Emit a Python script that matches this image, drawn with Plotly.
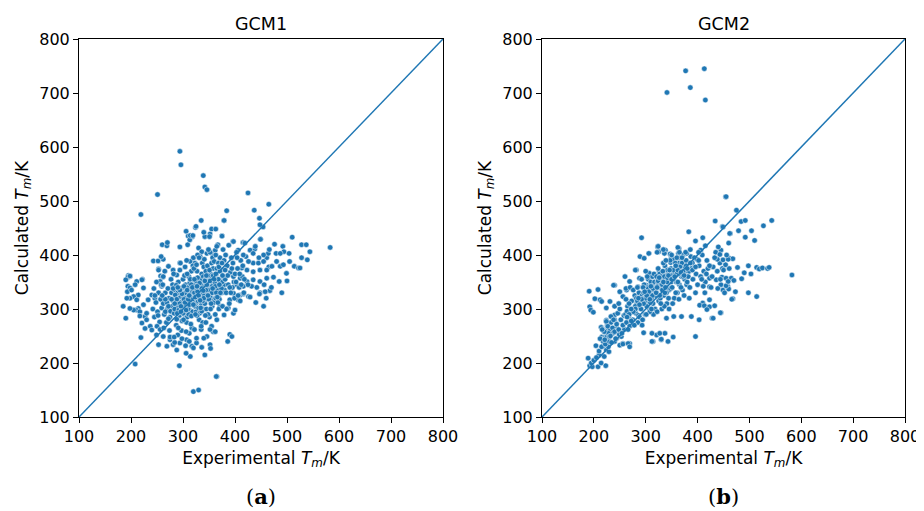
import plotly.graph_objects as go

# ---------------- data: (experimental Tm, calculated Tm) in K ----------------
gcm1_outliers = [(294,592),(296,567),(339,547),(342,526),(346,521),(251,512),(425,515),(219,475),(465,494),(384,482),
 (437,483),(447,468),(379,464),(335,464),(324,451),(306,444),(355,448),(363,448),(352,439),(375,435),(342,434),(310,435),
 (318,434),(313,428),(396,425),(415,423),(454,452),(449,429),(260,419),(269,417),(270,423),(294,415),(309,419),(367,419),
 (243,389),(252,389),(262,392),(258,397),(438,411),(461,395),(465,378),(253,374),(257,361),(261,359),(195,362),(198,360),(222,355)]

gcm1_left = [(194,359),(198,361),(190,354),(194,342),(198,339),(193,332),(201,335),(211,351),(208,345),(221,354),(224,339),
 (214,326),(205,323),(198,320),(192,320),(211,317),(214,301),(210,298),(217,295),(227,286),(230,280),(221,274),(237,268),
 (227,264),(240,261),(230,292),(224,308),(233,317),(240,326),(246,320),(185,305),(190,283),(217,287),(205,298),(198,301)]

gcm1_low = [(249,252),(262,249),(275,243),(281,234),(294,237),(307,243),(317,231),(326,237),(336,229),(314,212),(306,218),
 (342,215),(293,195),(208,198),(365,175),(320,147),(330,150),(219,247),(269,231),(253,234),(288,224),(326,246),(346,249),
 (358,258),(365,280),(355,268),(284,238),(298,245),(312,240),(340,246),(352,262),(290,252),(305,232),(320,228),(335,262),(275,248)]

gcm1_upper = [(325,453),(314,436),(319,436),(340,442),(351,434),(330,413),(336,406),(346,403),(355,403),(362,409),(365,416),
 (333,397),(314,388),(323,385),(294,385),(281,372),(272,379),(288,363),(262,360),(259,342),(256,351),(253,372)]

gcm1_right = [(379,464),(375,435),(449,429),(510,433),(528,419),(537,419),(544,406),(539,391),(583,414),(476,420),(492,416),
 (494,406),(504,403),(479,403),(487,403),(528,395),(514,379),(522,376),(525,376),(505,388),(499,366),(485,351),(467,334),
 (458,332),(448,330),(474,359),(461,357),(471,379),(421,397),(429,409),(435,403),(439,416),(416,423),(397,425),(362,258),
 (390,253),(394,249),(386,240),(352,234),(353,227),(364,175),(426,323),(429,322),(447,328),(397,292),(400,298),(379,289),
 (410,326),(416,328),(448,456),(435,385),(445,385),(455,388),(461,372),(448,372),(435,369),(423,372),(413,376),(410,357),
 (423,351),(435,354),(448,351),(432,342),(416,342),(403,345),(397,329),(390,317),(406,317),(387,302),(371,305),(368,323),
 (480,388),(487,379),(464,403),(455,400),(493,382),(419,422),(406,409),(426,388),
 (425,345),(442,340),(446,395),(456,345),(466,410),(470,340),(500,352),(460,320),(490,330),(440,312),(455,305)]

gcm1_core = [(242,300),(245,285),(248,312),(251,295),(253,330),(255,276),(257,318),(244,338),(259,302),(250,268),(246,325),
 (258,345),(252,288),(256,262),(249,350),
 (262,310),(264,290),(266,330),(268,275),(270,300),(261,345),(273,320),(275,285),(277,355),(263,265),(271,338),(279,305),
 (266,295),(274,260),(278,330),(269,312),(265,370),(276,296),(272,282),(280,345),
 (281,315),(283,292),(285,335),(287,270),(289,305),(291,350),(293,288),(295,322),(297,260),(299,340),(282,365),(284,300),
 (286,318),(288,281),(290,330),(292,298),(294,372),(296,312),(298,278),(300,355),(283,248),(285,326),(287,344),(289,292),
 (291,265),(293,310),(295,385),(297,330),(299,300),(281,338),
 (301,320),(303,290),(305,345),(307,275),(309,310),(311,360),(313,298),(315,332),(317,265),(319,350),(302,305),(304,378),
 (306,325),(308,285),(310,340),(312,255),(314,315),(316,370),(318,295),(320,335),(301,280),(303,362),(305,300),(307,390),
 (309,328),(311,290),(313,348),(315,272),(317,312),(319,380),(302,342),(306,258),(310,300),(314,355),(318,322),(304,330),
 (308,365),(312,308),(316,287),(320,395),
 (321,318),(323,345),(325,295),(327,370),(329,330),(331,280),(333,355),(335,310),(337,385),(339,300),(322,262),(324,338),
 (326,312),(328,400),(330,348),(332,292),(334,325),(336,365),(338,275),(340,342),(321,375),(323,305),(325,352),(327,288),
 (329,315),(331,395),(333,335),(335,268),(337,320),(339,360),(322,330),(326,382),(330,302),(334,345),(338,330),(324,290),
 (328,358),(332,318),(336,296),(340,378),
 (341,325),(343,355),(345,300),(347,380),(349,340),(351,285),(353,365),(355,320),(357,395),(359,345),(342,310),(344,370),
 (346,332),(348,290),(350,360),(352,405),(354,338),(356,305),(358,375),(360,330),(341,392),(343,288),(345,348),(347,318),
 (349,410),(351,335),(353,300),(355,385),(357,350),(359,312),(344,275),(348,362),(352,322),(356,342),(360,388),
 (361,350),(363,320),(365,375),(367,340),(369,300),(371,395),(373,355),(375,330),(377,410),(379,345),(362,290),(364,365),
 (366,335),(368,385),(370,318),(372,348),(374,372),(376,305),(378,360),(380,335),(363,400),(367,312),(371,370),(375,350),
 (379,390),
 (381,355),(383,330),(385,380),(387,345),(389,310),(391,368),(393,395),(395,340),(397,360),(399,320),(382,400),(386,362),
 (390,340),(394,375),(398,350),(384,300),(388,418),(392,330),(396,385),(400,365),
 (402,350),(405,375),(408,340),(411,390),(414,360),(417,330),(403,405),(406,325),(409,365),(412,345),(415,380),(418,355),
 (404,395),(410,315),(416,400)]

gcm1_core_dense = [(296,305),(302,318),(308,335),(314,322),(320,308),(326,338),(332,348),(338,315),(344,335),(350,318),
 (356,330),(362,342),(368,355),(374,338),(298,328),(304,312),(310,318),(316,345),(322,355),(328,332),(334,302),(340,320),
 (346,345),(352,352),(358,362),(364,330),(370,345),(376,362),(300,292),(306,298),(312,325),(318,340),(324,322),(330,325),
 (336,338),(342,352),(348,325),(354,310),(360,355),(366,322),(372,330),(288,318),(294,335),(284,310),(278,318),(272,305),
 (266,318),(260,325),(290,340),(296,295),(327,342),(333,316),(339,334),(345,362),(351,372),(357,338),(363,365),(369,378),
 (375,385),(381,372)]

gcm2_outliers = [(341,701),(377,741),(413,745),(386,710),(415,687),(454,508),(455,508),(475,483),(448,453),(484,462),
 (492,464),(527,454),(543,464),(463,440),(479,445),(504,445),(492,433),(510,427),(460,422),(445,409),(461,394),(468,393),
 (477,377),(461,375),(448,375),(454,382),(498,380),(514,377),(519,374),(525,376),(535,375),(538,377),(490,367),(503,365),
 (582,363),(447,359),(455,357),(465,357),(470,353),(485,356),(445,345),(458,342),(460,337),(473,332),(498,330),(514,323),
 (468,319),(445,293),(292,432),(383,443),(410,432),(396,426),(434,463),(449,452),(462,440),(466,318),(444,293),(428,283),
 (396,249),(403,280),(423,317),(410,311),(435,405),(443,401)]

gcm2_left = [(189,209),(192,195),(197,193),(208,193),(223,195),(191,333),(208,336),(202,319),(212,317),(215,314),(192,304),
 (194,298),(199,294),(224,279),(225,264),(214,266),(217,261),(227,261),(215,248),(222,248),(230,252),(220,243),(227,236),
 (219,231),(224,224),(229,221),(220,212),(210,215),(214,200),(234,286),(240,289),(231,261),(237,255),(253,249),(256,236),
 (269,236),(250,255),(244,246),(228,230),(195,200),(200,205),(205,210),(210,222),(215,230),(218,240),(222,235),(225,248),
 (228,255),(212,245),(220,258),(226,270),(230,240),(204,232),(216,262),(233,275)]

gcm2_ring = [(314,240),(330,243),(343,240),(353,248),(337,255),(321,252),(289,397),(297,394),(306,403),(323,415),(325,406),
 (338,409),(336,403),(349,397),(364,412),(363,403),(372,400),(282,372),(260,360),(269,351),(240,344),(250,332),(263,335),
 (231,314),(240,305),(224,302),(324,416),(334,410),(322,405),(362,414),(365,405),(347,402),(306,403),(415,417),(406,409),
 (400,391),(387,397),(379,403),(374,388),(363,385),(348,386),(353,392),(280,372),(288,357),(307,366),(326,370),(335,362),
 (238,344),(262,338),(256,323),(285,341),(301,344),(224,277),(233,286),(240,280),(227,268),(243,268),(259,262),(249,253),
 (230,249),(221,243),(240,240),(250,233),(256,235),(266,236),(269,230),(312,240),(330,244),(296,256),(312,255),(327,255),
 (388,286),(369,286),(354,286),(340,283),(404,307),(413,306),(423,304),(433,306),(418,299),(430,283),(423,341),(439,338),
 (449,335),(455,343),(459,351),(436,354),(423,357),(430,378),(443,385),(449,391),(459,392),(438,392)]

gcm2_core = [(232,250),(236,265),(240,258),(244,272),(248,262),(252,280),(256,270),(238,280),(246,292),(254,255),(242,245),
 (250,300),(258,288),(234,238),(248,310),
 (261,290),(263,275),(265,305),(267,285),(269,268),(271,298),(273,315),(275,280),(277,300),(279,325),(281,292),(283,310),
 (285,275),(287,330),(289,302),(262,318),(266,262),(270,340),(274,295),(278,270),(282,320),(286,288),(290,315),(264,296),
 (268,310),(272,278),(276,335),(280,305),(284,340),(288,285),
 (291,300),(293,325),(295,310),(297,345),(299,290),(301,330),(303,315),(305,355),(307,300),(309,335),(311,320),(313,360),
 (315,290),(317,340),(319,325),(292,355),(294,280),(296,330),(298,315),(300,370),(302,305),(304,340),(306,325),(308,295),
 (310,350),(312,335),(314,310),(316,365),(318,300),(320,345),(293,270),(297,320),(301,290),(305,338),(309,312),(313,325),
 (317,350),(295,340),(303,360),(311,300),
 (321,330),(323,350),(325,315),(327,365),(329,340),(331,300),(333,355),(335,325),(337,380),(339,345),(341,310),(343,365),
 (345,335),(347,390),(349,350),(322,295),(324,375),(326,340),(328,320),(330,360),(332,335),(334,385),(336,305),(338,350),
 (340,330),(342,372),(344,320),(346,355),(348,338),(350,400),(321,360),(325,345),(329,310),(333,370),(337,330),(341,350),
 (345,300),(349,375),(327,325),(339,390),
 (351,340),(353,365),(355,320),(357,385),(359,350),(361,330),(363,375),(365,345),(367,395),(369,360),(371,335),(373,380),
 (375,355),(377,405),(379,345),(352,310),(354,355),(356,375),(358,330),(360,395),(362,350),(364,318),(366,365),(368,340),
 (370,385),(372,360),(374,325),(376,370),(378,390),(380,350),
 (382,360),(385,340),(388,375),(391,355),(394,395),(397,365),(400,345),(403,380),(406,360),(409,400),(412,370),(415,350),
 (418,390),(384,320),(390,385),(396,330),(402,405),(408,355),(414,330),(420,375),(386,410),(399,392),(411,342),(417,365),
 (423,380),(428,360),(433,395),(438,370),(444,355),(450,372),(456,400),(426,340),(440,415),(452,330)]

gcm2_core_dense = [(300,320),(306,332),(312,342),(318,335),(324,352),(330,345),(336,360),(342,358),(348,362),(354,372),
 (360,365),(366,378),(372,370),(378,380),(384,370),(390,372),(396,378),(402,390),(296,310),(302,325),(308,318),(314,338),
 (320,330),(326,358),(332,345),(338,340),(344,362),(350,355),(356,360),(362,372),(368,368),(374,362),(380,375),(386,385),
 (280,300),(284,315),(288,308),(292,318),(276,295),(272,300),(268,290),(264,285),(286,320),(298,332),(310,342),(322,340),
 (334,350),(346,372),(358,380),(370,395)]

gcm1_points = gcm1_outliers + gcm1_left + gcm1_low + gcm1_upper + gcm1_right + gcm1_core + gcm1_core_dense
gcm2_points = gcm2_outliers + gcm2_left + gcm2_ring + gcm2_core + gcm2_core_dense
gcm1_exp = [p[0] for p in gcm1_points]
gcm1_calc = [p[1] for p in gcm1_points]
gcm2_exp = [p[0] for p in gcm2_points]
gcm2_calc = [p[1] for p in gcm2_points]

diag = [100, 800]
tick_vals = [100, 200, 300, 400, 500, 600, 700, 800]
panel_titles = ["GCM1", "GCM2"]
panel_labels = ["(<b>a</b>)", "(<b>b</b>)"]

# ---------------- figure ----------------
BLUE = "#1f77b4"
FONT = "DejaVu Sans"
W, H = 924, 511
OFF = 8  # the page body margin shifts the figure by 8 px right and down
fig = go.Figure()

def px_x(p):
    return (p - OFF) / W

def px_y(p):
    return (H - (p - OFF)) / H

xdom = [[px_x(79), px_x(443)], [px_x(542), px_x(905)]]
ydom = [px_y(417), px_y(39)]

for i, (xs, ys) in enumerate([(gcm1_exp, gcm1_calc), (gcm2_exp, gcm2_calc)]):
    xa = "x" if i == 0 else "x2"
    ya = "y" if i == 0 else "y2"
    fig.add_trace(go.Scatter(x=xs, y=ys, mode="markers", xaxis=xa, yaxis=ya,
                             marker=dict(size=5.5, color=BLUE, line=dict(color="white", width=0.5)),
                             showlegend=False, hoverinfo="skip"))
    fig.add_trace(go.Scatter(x=diag, y=diag, mode="lines", xaxis=xa, yaxis=ya,
                             line=dict(color=BLUE, width=1.5), showlegend=False, hoverinfo="skip"))

axis_common = dict(range=[100, 800], tickvals=tick_vals, ticks="outside", ticklen=5, tickwidth=1,
                   tickcolor="black", showline=True, linecolor="black", linewidth=1, mirror=True,
                   showgrid=False, zeroline=False, automargin=False,
                   tickfont=dict(family=FONT, size=16, color="black"))

xtitle = dict(text="Experimental <i>T<sub>m</sub></i>/K", font=dict(family=FONT, size=17, color="black"), standoff=6)
ytitle = dict(text="Calculated <i>T<sub>m</sub></i>/K", font=dict(family=FONT, size=17, color="black"), standoff=6)

fig.update_layout(
    width=W, height=H, margin=dict(l=0, r=0, t=0, b=0),
    paper_bgcolor="white", plot_bgcolor="white",
    xaxis=dict(domain=xdom[0], anchor="y", title=xtitle, **axis_common),
    yaxis=dict(domain=ydom, anchor="x", title=ytitle, **axis_common),
    xaxis2=dict(domain=xdom[1], anchor="y2", title=xtitle, **axis_common),
    yaxis2=dict(domain=ydom, anchor="x2", title=ytitle, **axis_common),
)

for i in range(2):
    cx = (xdom[i][0] + xdom[i][1]) / 2
    fig.add_annotation(text=panel_titles[i], x=cx, y=px_y(24), xref="paper", yref="paper",
                       showarrow=False, xanchor="center", yanchor="middle",
                       font=dict(family=FONT, size=17.5, color="black"))
    fig.add_annotation(text=panel_labels[i], x=cx, y=px_y(496), xref="paper", yref="paper",
                       showarrow=False, xanchor="center", yanchor="middle",
                       font=dict(family="DejaVu Serif", size=21, color="black"))

fig.write_html("out.html")
